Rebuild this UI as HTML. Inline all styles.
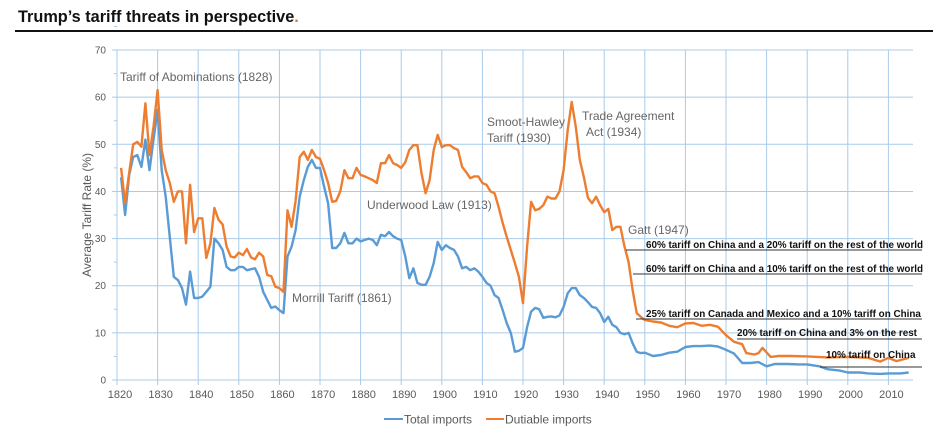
<!DOCTYPE html>
<html><head><meta charset="utf-8">
<style>
body{margin:0;background:#fff;width:933px;height:428px;overflow:hidden;font-family:"Liberation Sans",sans-serif}
svg text{font-family:"Liberation Sans",sans-serif}
</style></head>
<body>
<svg id="chart" width="933" height="428" viewBox="0 0 933 428" xmlns="http://www.w3.org/2000/svg">
<text x="18" y="22" font-size="16.3" font-weight="bold" fill="#111">Trump’s tariff threats in perspective<tspan fill="#e07a2e">.</tspan></text>
<rect x="15" y="30" width="918" height="2" fill="#111"/>
<g id="grid"></g>
<g id="axes"></g>
<g id="series"></g>
<g id="notes"></g>
<text transform="translate(91,215) rotate(-90)" text-anchor="middle" font-size="12" fill="#595959">Average Tariff Rate (%)</text>
<g>
<line x1="384" y1="419" x2="403" y2="419" stroke="#5b9bd5" stroke-width="2"/>
<text x="404" y="423.5" font-size="12" fill="#595959">Total imports</text>
<line x1="486" y1="419" x2="504" y2="419" stroke="#ed7d31" stroke-width="2"/>
<text x="505" y="423.5" font-size="12" fill="#595959">Dutiable imports</text>
</g>
</svg>
<script>
const yTicks=[0,10,20,30,40,50,60,70];
const xTicks=[1820,1830,1840,1850,1860,1870,1880,1890,1900,1910,1920,1930,1940,1950,1960,1970,1980,1990,2000,2010];
const totalYears=[1821,1822,1823,1824,1825,1826,1827,1828,1829,1830,1831,1832,1833,1834,1835,1836,1837,1838,1839,1840,1841,1842,1843,1844,1845,1846,1847,1848,1849,1850,1851,1852,1853,1854,1855,1856,1857,1858,1859,1860,1861,1862,1863,1864,1865,1866,1867,1868,1869,1870,1871,1872,1873,1874,1875,1876,1877,1878,1879,1880,1881,1882,1883,1884,1885,1886,1887,1888,1889,1890,1891,1892,1893,1894,1895,1896,1897,1898,1899,1900,1901,1902,1903,1904,1905,1906,1907,1908,1909,1910,1911,1912,1913,1914,1915,1916,1917,1918,1919,1920,1921,1922,1923,1924,1925,1926,1927,1928,1929,1930,1931,1932,1933,1934,1935,1936,1937,1938,1939,1940,1941,1942,1943,1944,1945,1946,1947,1948,1949,1950,1952,1954,1956,1958,1960,1962,1964,1966,1968,1970,1972,1974,1976,1978,1980,1982,1985,1988,1990,1993,1995,1998,2000,2003,2005,2008,2010,2013,2015];
const totalValues=[43,35,43.5,47.3,47.7,45.2,51,44.5,51,57.3,44.5,38.9,30.3,21.9,21.2,19.5,16,23,17.4,17.4,17.7,18.7,19.8,30,29,27.6,24,23.3,23.3,24,24,23.3,23.5,23.7,21.9,18.7,17,15.3,15.6,14.8,14.2,26.2,28.3,31.8,38.9,42.4,45.2,46.7,45,45,41,37.5,28,28,29,31.2,29,29,30,29.4,29.7,30,29.7,28.6,30.8,30.5,31.4,30.5,30,29.7,26.2,21.6,23.7,20.6,20.2,20.2,21.9,24.8,29.3,27.6,28.6,28,27.6,26.2,23.7,24,23.3,23.7,23,21.9,20.6,20,18,17.4,14.8,12,10,6,6.2,6.8,11.2,14.5,15.3,15,13.2,13.4,13.5,13.3,13.7,15.5,18.4,19.5,19.5,18,17.4,16.5,15.5,15.3,14.2,12.3,13.4,11.7,11.2,10,9.7,10,7.8,6,5.7,5.8,5.1,5.3,5.8,6,7,7.2,7.2,7.3,7.1,6.4,5.6,3.6,3.6,3.8,2.9,3.4,3.4,3.3,3.3,2.9,2.3,2,1.6,1.6,1.4,1.3,1.4,1.4,1.6];
const dutYears=[1821,1822,1823,1824,1825,1826,1827,1828,1829,1830,1831,1832,1833,1834,1835,1836,1837,1838,1839,1840,1841,1842,1843,1844,1845,1846,1847,1848,1849,1850,1851,1852,1853,1854,1855,1856,1857,1858,1859,1860,1861,1862,1863,1864,1865,1866,1867,1868,1869,1870,1871,1872,1873,1874,1875,1876,1877,1878,1879,1880,1881,1882,1883,1884,1885,1886,1887,1888,1889,1890,1891,1892,1893,1894,1895,1896,1897,1898,1899,1900,1901,1902,1903,1904,1905,1906,1907,1908,1909,1910,1911,1912,1913,1914,1915,1916,1917,1918,1919,1920,1921,1922,1923,1924,1925,1926,1927,1928,1929,1930,1931,1932,1933,1934,1935,1936,1937,1938,1939,1940,1941,1942,1943,1944,1945,1946,1947,1948,1949,1950,1952,1954,1956,1958,1960,1962,1964,1966,1968,1970,1972,1974,1975,1977,1978,1979,1981,1983,1986,1990,1995,2000,2005,2008,2010,2012,2015];
const dutValues=[45,37.5,44,50,50.5,49.5,58.7,47.7,53.7,61.5,48.8,44.5,41.8,37.8,40,40,29,41.4,31.4,34.3,34.3,25.9,29,36.5,34,33,28.3,26.2,26,27,26.5,27.8,26,25.6,27,26.2,22.3,22,19.8,19.5,18.7,36,32.5,38,47.3,48.4,46.7,48.8,47.3,46.9,44.5,41.8,37.8,38,40,44.5,42.8,42.8,45,43.5,43.2,42.8,42.4,41.8,46,46,47.7,46,45.6,45,46.2,48.8,49.8,49.8,43.9,39.6,42.4,48.8,52,49.4,49.8,49.8,49.2,48.8,45.2,44.1,42.8,43.2,43.2,41.8,41.4,40,39.6,36.7,33.3,30.3,27.6,24.8,21.9,16.3,28.3,37.8,36,36.3,37.1,38.9,38.5,38.5,40,44.5,53,59,53.7,46.7,43,38.6,37.5,38.9,37.1,35.6,36.3,31.8,32.5,32.5,28.3,25,19.1,14.2,13.4,12.7,12.4,12.2,11.5,11.2,12,12.1,11.5,11.7,11.3,9.5,8.1,7.6,5.7,5.4,5.7,6.8,4.9,5.1,5.1,5,4.8,4.9,4.7,3.9,4.7,4,4.7];
const NS="http://www.w3.org/2000/svg";
const X=y=>117+(y-1820)*4.06;
const Y=v=>380-v*4.714;
function mk(tag,attrs,parent){const e=document.createElementNS(NS,tag);for(const k in attrs)e.setAttribute(k,attrs[k]);parent.appendChild(e);return e;}
const grid=document.getElementById('grid'),axes=document.getElementById('axes'),series=document.getElementById('series'),notes=document.getElementById('notes');
yTicks.forEach(t=>{
 if(t>0){const g=mk('line',{x1:117,x2:913,y1:Y(t),y2:Y(t),stroke:'#a9cbea','stroke-width':1},grid);
 
 }
 const tk=mk('line',{x1:112,x2:117,y1:Y(t),y2:Y(t),stroke:'#a9cbea','stroke-width':1},axes);
 
 
 const m=mk('line',{x1:114,x2:117,y1:Y(t+5),y2:Y(t+5),stroke:'#a9cbea','stroke-width':1},axes);
 
 
 const l=mk('text',{x:106,y:Y(t)+3.5,'text-anchor':'end','font-size':10,fill:'#595959'},axes);
 l.textContent=t;
 
 
});
xTicks.forEach(t=>{
 const g=mk('line',{x1:X(t),x2:X(t),y1:50,y2:385,stroke:'#a9cbea','stroke-width':1},grid);
 
 
 const l=mk('text',{x:X(t)+3,y:398,'text-anchor':'middle','font-size':11,fill:'#595959'},axes);
 l.textContent=t;
 
 
});
const ax=mk('line',{x1:117,x2:913,y1:380,y2:380,stroke:'#a9cbea','stroke-width':1},axes);


const ay=mk('line',{x1:117,x2:117,y1:50,y2:380,stroke:'#a9cbea','stroke-width':1},axes);


function pts(xs,vs){return xs.map((x,i)=>X(x).toFixed(1)+','+Y(vs[i]).toFixed(1)).join(' ');}
const pt=mk('polyline',{points:pts(totalYears,totalValues),fill:'none',stroke:'#5b9bd5','stroke-width':2.4,'stroke-linejoin':'round'},series);


const pd=mk('polyline',{points:pts(dutYears,dutValues),fill:'none',stroke:'#ed7d31','stroke-width':2.4,'stroke-linejoin':'round'},series);


const ann=[["Tariff of Abominations (1828)",120,81],["Smoot-Hawley",487,126],["Tariff (1930)",487,142],["Trade Agreement",582,120],["Act (1934)",586,136],["Underwood  Law (1913)",367,209],["Morrill Tariff  (1861)",292,302],["Gatt (1947)",628,234]];
ann.forEach(a=>{const t=mk('text',{x:a[1],y:a[2],'font-size':12,fill:'#666'},notes);t.textContent=a[0];
 
 });
const sc=[["60% tariff on China and a 20% tariff on the rest of the world",646,248,626,250],["60% tariff on China and a 10% tariff on the rest of the world",646,272,633,274],["25% tariff on Canada and Mexico and a 10% tariff on China",646,317,636,319],["20% tariff on China and 3% on the rest",737,336,737,339],["10% tariff on China",826,358,820,367]];
sc.forEach(s=>{const t=mk('text',{x:s[1],y:s[2],'font-size':9.9,'font-weight':'bold',fill:'#111'},notes);t.textContent=s[0];
 
 
 const l=mk('line',{x1:s[3],x2:922,y1:s[4],y2:s[4],stroke:'#333','stroke-width':1},notes);
 
 });
</script>
</body></html>
